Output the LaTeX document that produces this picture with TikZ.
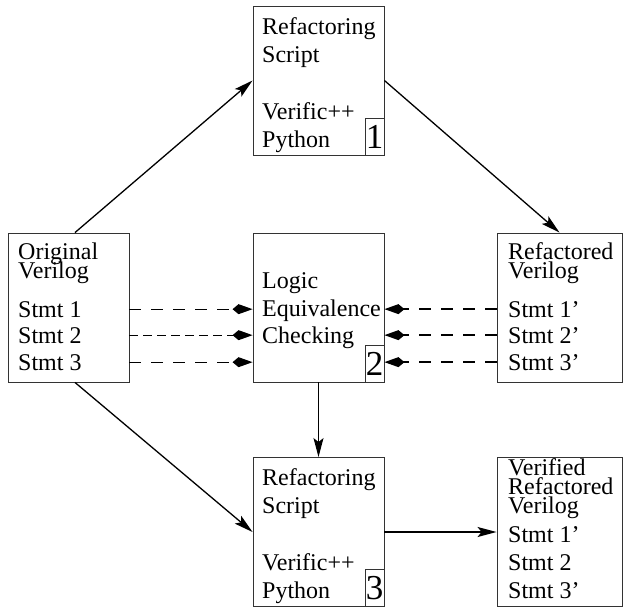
\documentclass[tikz,border=0pt]{standalone}
\usepackage{fontspec}
\setmainfont{Liberation Serif}
\usetikzlibrary{arrows.meta}
\begin{document}
\begin{tikzpicture}[x=1pt,y=-1pt,
    box/.style={draw=black!80,line width=0.9pt,minimum width=131pt,minimum height=149pt,inner sep=0pt},
    txt/.style={anchor=base west,inner sep=0pt,font=\fontsize{24}{28}\selectfont},
    num/.style={draw=black!80,line width=0.9pt,anchor=south east,minimum width=19pt,minimum height=37pt,inner sep=0pt,font=\fontsize{35}{35}\selectfont},
    arr/.style={line width=1.3pt,-{Stealth[length=19pt,width=10pt,inset=4pt]}},
    eqv/.style={line width=1.3pt,dash pattern=on 12pt off 10pt,-{Kite[length=20pt,width=10pt,inset=6pt]}},
    eqvfine/.style={eqv,dash pattern=on 9pt off 5pt}]
  \clip (0,0) rectangle (624,606);

  % boxes
  \node[box] (script) at (318.5,80.5) {};
  \node[box,minimum width=121pt] (orig) at (68.5,307.5) {};
  \node[box] (lec) at (318.5,307.5) {};
  \node[box,minimum width=125pt] (refac) at (559.5,307.5) {};
  \node[box] (run) at (318.5,532) {};
  \node[box,minimum width=125pt] (verified) at (559.5,532) {};

  % step numbers
  \node[num] (n1) at (script.south east) {1};
  \node[num] (n2) at (lec.south east) {2};
  \node[num] (n3) at (run.south east) {3};

  % refactoring script
  \node[txt] (sc1) at (262,34)  {Refactoring};
  \node[txt] (sc2) at (262,62)  {Script};
  \node[txt] (sc3) at (262,119) {Verific++};
  \node[txt] (sc4) at (262,147) {Python};

  % original verilog
  \node[txt] (oh1) at (18,259) {Original};
  \node[txt] (oh2) at (18,278) {Verilog};
  \node[txt] (o1)  at (18,317) {Stmt 1};
  \node[txt] (o2)  at (18,343) {Stmt 2};
  \node[txt] (o3)  at (18,370) {Stmt 3};

  % equivalence check
  \node[txt] (lc1) at (262,288) {Logic};
  \node[txt] (lc2) at (262,316) {Equivalence};
  \node[txt] (lc3) at (262,343) {Checking};

  % refactored verilog
  \node[txt] (rh1) at (508,259) {Refactored};
  \node[txt] (rh2) at (508,278) {Verilog};
  \node[txt] (r1)  at (508,317) {Stmt 1'};
  \node[txt] (r2)  at (508,343) {Stmt 2'};
  \node[txt] (r3)  at (508,370) {Stmt 3'};

  % second run of the script
  \node[txt] (ru1) at (262,485) {Refactoring};
  \node[txt] (ru2) at (262,513) {Script};
  \node[txt] (ru3) at (262,570) {Verific++};
  \node[txt] (ru4) at (262,598) {Python};

  % verified result
  \node[txt] (vh1) at (508,475) {Verified};
  \node[txt] (vh2) at (508,494) {Refactored};
  \node[txt] (vh3) at (508,513) {Verilog};
  \node[txt] (v1)  at (508,542) {Stmt 1'};
  \node[txt] (v2)  at (508,570) {Stmt 2};
  \node[txt] (v3)  at (508,598) {Stmt 3'};

  % flow
  \draw[arr] ([xshift=6.5pt]orig.north) -- (script.west);
  \draw[arr] (script.east) -- (refac.north);
  \draw[arr] ([xshift=6.5pt]orig.south) -- (run.west);
  \draw[arr] (lec.south) -- (run.north);
  \draw[arr] (run.east) -- (verified.west);

  % statement pairs into the checker
  \draw[eqv] (o1.east -| orig.east) -- (o1.east -| lec.west);
  \draw[eqvfine] (o2.east -| orig.east) -- (o2.east -| lec.west);
  \draw[eqv] (o3.east -| orig.east) -- (o3.east -| lec.west);
  \foreach \s in {r1,r2,r3}
    \draw[eqv] (\s.west -| refac.west) -- (\s.west -| lec.east);
\end{tikzpicture}
\end{document}
